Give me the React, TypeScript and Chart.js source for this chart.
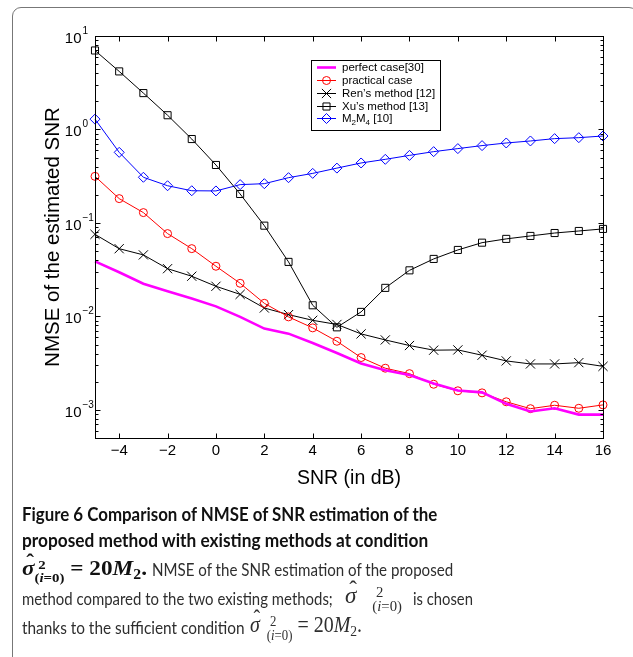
import React, { useEffect, useLayoutEffect, useRef, useState } from 'react';
import { Chart, registerables } from 'chart.js';

Chart.register(...registerables);

const snrDb = [-5, -4, -3, -2, -1, 0, 1, 2, 3, 4, 5, 6, 7, 8, 9, 10, 11, 12, 13, 14, 15, 16];
const perfectCase = [0.0388, 0.0297, 0.0224, 0.0186, 0.0155, 0.0128, 0.00987, 0.0074, 0.00654, 0.0052, 0.00406, 0.00313, 0.00265, 0.00236, 0.00191, 0.00161, 0.00154, 0.00116, 0.00096, 0.00104, 0.00089, 0.00089];
const practicalCase = [0.315, 0.182, 0.129, 0.0769, 0.0531, 0.0344, 0.0226, 0.0138, 0.00988, 0.00754, 0.00542, 0.00363, 0.00279, 0.00244, 0.00188, 0.0016, 0.00152, 0.00122, 0.00103, 0.00112, 0.00104, 0.00113];
const renMethod = [0.0755, 0.053, 0.0455, 0.0324, 0.0269, 0.021, 0.0172, 0.0123, 0.01045, 0.00908, 0.0082, 0.0065, 0.0056, 0.00488, 0.00435, 0.00438, 0.00384, 0.00334, 0.0031, 0.0031, 0.0032, 0.00292];
const xuMethod = [7.0, 4.18, 2.45, 1.42, 0.79, 0.417, 0.204, 0.0935, 0.0383, 0.01315, 0.00764, 0.01117, 0.0202, 0.0311, 0.0412, 0.0514, 0.0615, 0.0675, 0.0726, 0.078, 0.082, 0.0863];
const m2m4Method = [1.29, 0.569, 0.308, 0.25, 0.221, 0.22, 0.257, 0.263, 0.305, 0.339, 0.386, 0.438, 0.479, 0.528, 0.579, 0.624, 0.672, 0.717, 0.753, 0.798, 0.817, 0.851];

const seriesLabels = ['perfect case[30]', 'practical case', 'Ren\u2019s method [12]', 'Xu\u2019s method [13]', 'M2M4 [10]'];
const xTickValues = [-4, -2, 0, 2, 4, 6, 8, 10, 12, 14, 16];
const yDecadeExponents = [-3, -2, -1, 0, 1];
const xAxisTitle = 'SNR (in dB)';
const yAxisTitle = 'NMSE of the estimated SNR';

const AXIS_FONT = '"Liberation Sans", Arial, Helvetica, sans-serif';

function drawMarker(ctx: CanvasRenderingContext2D, style: string, x: number, y: number, r: number) {
  ctx.beginPath();
  if (style === 'circle') {
    ctx.arc(x, y, r, 0, Math.PI * 2);
  } else if (style === 'rect') {
    const s = r * Math.SQRT1_2;
    ctx.rect(x - s, y - s, 2 * s, 2 * s);
  } else if (style === 'rectRot') {
    ctx.moveTo(x, y - r);
    ctx.lineTo(x + r, y);
    ctx.lineTo(x, y + r);
    ctx.lineTo(x - r, y);
    ctx.closePath();
  } else if (style === 'crossRot') {
    const s = r * Math.SQRT1_2;
    ctx.moveTo(x - s, y - s);
    ctx.lineTo(x + s, y + s);
    ctx.moveTo(x + s, y - s);
    ctx.lineTo(x - s, y + s);
  }
  ctx.stroke();
}

const matlabAxes = {
  id: 'matlabAxes',
  afterDatasetsDraw(chart: any) {
    const ctx: CanvasRenderingContext2D = chart.ctx;
    const { left, right, top, bottom } = chart.chartArea;
    const xs = chart.scales.x;
    const ys = chart.scales.y;
    ctx.save();
    ctx.strokeStyle = '#000';
    ctx.fillStyle = '#000';
    ctx.lineWidth = 1;
    const L = Math.round(left) + 0.5, R = Math.round(right) + 0.5, T = Math.round(top) + 0.5, B = Math.round(bottom) + 0.5;
    ctx.strokeRect(L, T, R - L, B - T);
    ctx.beginPath();
    xTickValues.forEach((v) => {
      const px = Math.round(xs.getPixelForValue(v)) + 0.5;
      ctx.moveTo(px, B); ctx.lineTo(px, B - 5);
      ctx.moveTo(px, T); ctx.lineTo(px, T + 5);
    });
    const minorVals: number[] = [];
    [-4, ...yDecadeExponents].forEach((e) => {
      for (let m = 1; m <= 9; m++) minorVals.push(m * Math.pow(10, e));
    });
    minorVals.forEach((val) => {
      if (val < ys.min * 0.999 || val > ys.max * 1.001) return;
      const py = Math.round(ys.getPixelForValue(val)) + 0.5;
      const isMajor = Math.abs(Math.log10(val) - Math.round(Math.log10(val))) < 1e-6;
      const len = isMajor ? 5 : 3;
      ctx.moveTo(L, py); ctx.lineTo(L + len, py);
      ctx.moveTo(R, py); ctx.lineTo(R - len, py);
    });
    ctx.stroke();
    // x tick labels
    ctx.font = `15px ${AXIS_FONT}`;
    ctx.textAlign = 'center';
    ctx.textBaseline = 'alphabetic';
    xTickValues.forEach((v) => {
      const px = xs.getPixelForValue(v);
      const label = v < 0 ? '\u2212' + Math.abs(v) : String(v);
      ctx.fillText(label, px, bottom + 16.5);
    });
    // y tick labels 10^e
    yDecadeExponents.forEach((e) => {
      const py = ys.getPixelForValue(Math.pow(10, e));
      ctx.font = `15px ${AXIS_FONT}`;
      ctx.textAlign = 'right';
      ctx.fillText('10', left - 13.5, py + 7);
      ctx.font = `10px ${AXIS_FONT}`;
      ctx.textAlign = 'left';
      ctx.fillText(e < 0 ? '\u2212' + Math.abs(e) : String(e), left - 12.5, py - 2);
    });
    // axis titles
    ctx.font = `19.5px ${AXIS_FONT}`;
    ctx.textAlign = 'center';
    ctx.fillText(xAxisTitle, (left + right) / 2, bottom + 46);
    ctx.save();
    ctx.font = `20.5px ${AXIS_FONT}`;
    ctx.translate(left - 44, (top + bottom) / 2);
    ctx.rotate(-Math.PI / 2);
    ctx.textBaseline = 'alphabetic';
    ctx.fillText(yAxisTitle, 0, 7.5);
    ctx.restore();

    // legend
    const lx = 311.5, ly = 60.5, lw = 129, lh = 70;
    ctx.fillStyle = '#fff';
    ctx.fillRect(lx, ly, lw, lh);
    ctx.strokeStyle = '#000';
    ctx.lineWidth = 1;
    ctx.strokeRect(lx, ly, lw, lh);
    const rowY = [67.5, 80.5, 93.5, 106.5, 118.5];
    chart.data.datasets.forEach((ds: any, i: number) => {
      const y = rowY[i];
      ctx.strokeStyle = ds.borderColor;
      ctx.lineWidth = ds.borderWidth;
      ctx.beginPath();
      ctx.moveTo(317, y); ctx.lineTo(336, y);
      ctx.stroke();
      if (ds.pointRadius > 0) {
        ctx.lineWidth = 1;
        ctx.strokeStyle = ds.pointBorderColor;
        drawMarker(ctx, ds.pointStyle, 326.5, y, ds.pointRadius);
      }
      ctx.fillStyle = '#000';
      ctx.textAlign = 'left';
      ctx.textBaseline = 'middle';
      ctx.font = `11.5px ${AXIS_FONT}`;
      if (i === 4) {
        let x = 342;
        ctx.fillText('M', x, y); x += ctx.measureText('M').width;
        ctx.font = `8px ${AXIS_FONT}`;
        ctx.fillText('2', x, y + 4); x += ctx.measureText('2').width;
        ctx.font = `11.5px ${AXIS_FONT}`;
        ctx.fillText('M', x, y); x += ctx.measureText('M').width;
        ctx.font = `8px ${AXIS_FONT}`;
        ctx.fillText('4', x, y + 4); x += ctx.measureText('4').width;
        ctx.font = `11.5px ${AXIS_FONT}`;
        ctx.fillText(' [10]', x, y);
      } else {
        ctx.fillText(ds.label, 342, y);
      }
    });
    ctx.restore();
  },
};

const serif = '"Liberation Serif", "DejaVu Serif", "Times New Roman", serif';
const sans = 'Lato, "Open Sans", "Noto Sans", sans-serif';

function Fit({ x, baseline, width, size, asc = 0.387, lh = 24, style, children }: any) {
  const ref = useRef<HTMLSpanElement | null>(null);
  const [k, setK] = useState(1);
  useLayoutEffect(() => {
    const w = ref.current ? ref.current.offsetWidth : 0;
    if (width && w > 0) setK(width / w);
  }, []);
  return (
    <span
      ref={ref}
      style={{
        position: 'absolute',
        left: x,
        top: baseline - (lh / 2 + asc * size),
        fontSize: size,
        lineHeight: lh + 'px',
        whiteSpace: 'nowrap',
        transform: `scaleX(${k})`,
        transformOrigin: 'left center',
        ...style,
      }}
    >
      {children}
    </span>
  );
}

function Sigma({ gap = 0 }: { gap?: number }) {
  return (
    <>
      <span style={{ position: 'relative', display: 'inline-block' }}>
        <i>{'\u03C3'}</i>
        <span style={{ position: 'absolute', left: '0.18em', top: '-0.28em', fontStyle: 'normal' }}>{'\u02C6'}</span>
      </span>
      <span style={{ display: 'inline-block', verticalAlign: '-0.5em', lineHeight: '0.95em', fontSize: '0.64em', textAlign: 'left', marginLeft: gap }}>
        {'\u00A02'}
        <br />
        (<i>i</i>=0)
      </span>
    </>
  );
}

export default function App() {
  const canvasRef = useRef<HTMLCanvasElement | null>(null);
  useEffect(() => {
    const canvas = canvasRef.current!;
    const mk = (label: string, data: number[], color: string, width: number, style: string | false, r: number) => ({
      label,
      data: snrDb.map((x, i) => ({ x, y: data[i] })),
      borderColor: color,
      borderWidth: width,
      pointStyle: style || 'circle',
      pointRadius: style ? r : 0,
      pointBorderColor: color,
      pointBackgroundColor: 'rgba(0,0,0,0)',
      pointBorderWidth: 1,
      fill: false,
      tension: 0,
      clip: false as any,
    });
    const chart = new Chart(canvas, {
      type: 'line',
      data: {
        datasets: [
          mk(seriesLabels[0], perfectCase, '#ff00ff', 2.6, false, 0),
          mk(seriesLabels[1], practicalCase, '#ff0000', 1, 'circle', 4),
          mk(seriesLabels[2], renMethod, '#000000', 1, 'crossRot', 6.5),
          mk(seriesLabels[3], xuMethod, '#000000', 1, 'rect', 5),
          mk(seriesLabels[4], m2m4Method, '#0000ff', 1, 'rectRot', 5),
        ],
      },
      options: {
        responsive: false,
        animation: false,
        devicePixelRatio: 1,
        layout: { padding: { left: 95, top: 36, right: 30, bottom: 219 } },
        plugins: { legend: { display: false }, tooltip: { enabled: false } },
        events: [],
        scales: {
          x: { type: 'linear', min: -5, max: 16, display: false },
          y: { type: 'logarithmic', min: 5e-4, max: 10, display: false },
        },
      },
      plugins: [matlabAxes],
    });
    return () => chart.destroy();
  }, []);

  const bold = { fontFamily: sans, fontWeight: 700, color: '#111' };
  const reg = { fontFamily: sans, fontWeight: 400, color: '#2e2e2e' };
  const mathB = { fontFamily: serif, fontWeight: 700, color: '#111' };
  const mathR = { fontFamily: serif, fontWeight: 400, color: '#2e2e2e' };

  return (
    <div style={{ position: 'absolute', left: 0, top: 0, width: 633, height: 657, overflow: 'hidden', background: '#fff' }}>
      <div style={{ position: 'absolute', left: 12, top: 7, width: 624, height: 700, border: '1px solid #777', borderRadius: 9 }} />
      <canvas ref={canvasRef} width={633} height={657} style={{ position: 'absolute', left: 0, top: 0 }} />
      <Fit x={22} baseline={521} width={415} size={18} style={bold}>Figure 6 Comparison of NMSE of SNR estimation of the</Fit>
      <Fit x={22} baseline={547} width={406} size={18} style={bold}>proposed method with existing methods at condition</Fit>
      <Fit x={22} baseline={575} width={125} size={21} asc={0.3375} style={mathB}>
        <Sigma /> = 20<i>M</i><span style={{ fontSize: '0.68em', verticalAlign: '-0.25em' }}>2</span>.
      </Fit>
      <Fit x={152} baseline={576} width={301} size={18} style={reg}>NMSE of the SNR estimation of the proposed</Fit>
      <Fit x={22} baseline={605} width={311} size={18} style={reg}>method compared to the two existing methods;</Fit>
      <Fit x={345} baseline={604} size={23} asc={0.3375} style={mathR}>
        <Sigma gap={16} />
      </Fit>
      <Fit x={413} baseline={605} width={60} size={18} style={reg}>is chosen</Fit>
      <Fit x={22} baseline={634} width={223} size={18} style={reg}>thanks to the sufficient condition</Fit>
      <Fit x={250} baseline={633} width={112} size={23} asc={0.3375} style={mathR}>
        <Sigma gap={8} /> = 20<i>M</i><span style={{ fontSize: '0.68em', verticalAlign: '-0.25em' }}>2</span>.
      </Fit>
    </div>
  );
}
